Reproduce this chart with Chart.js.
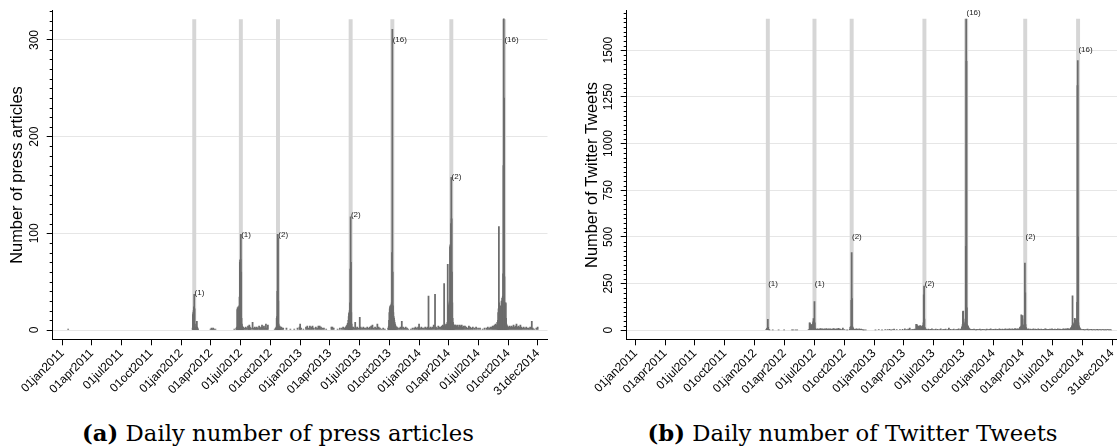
<!DOCTYPE html>
<html><head><meta charset="utf-8">
<script src="https://cdn.jsdelivr.net/npm/chart.js@4.4.1/dist/chart.umd.min.js"></script>
<style>
html,body{margin:0;padding:0;background:#fff;width:1117px;height:448px;overflow:hidden;position:relative}
canvas{position:absolute;top:0}
#c1{left:0}
#c2{left:557px}
.cap{position:absolute;white-space:nowrap;font-family:"DejaVu Serif",serif;color:#000;line-height:1}
</style></head><body>
<canvas id="c1" width="557" height="415"></canvas>
<canvas id="c2" width="574" height="415"></canvas>
<div class="cap" id="capA"><b>(a)</b> Daily number of press articles</div>
<div class="cap" id="capB"><b>(b)</b> Daily number of Twitter Tweets</div>
<script>
// ---------- DATA (x = days since 01jan2011) ----------
const xTickDays   = [0, 90, 181, 273, 365, 456, 547, 639, 731, 821, 912, 1004, 1096, 1186, 1277, 1369, 1460];
const xTickLabels = ["01jan2011","01apr2011","01jul2011","01oct2011","01jan2012","01apr2012","01jul2012","01oct2012",
                     "01jan2013","01apr2013","01jul2013","01oct2013","01jan2014","01apr2014","01jul2014","01oct2014","31dec2014"];

const eventDays   = [405, 548, 662, 885, 1013, 1194, 1356];
const eventLabels = ["(1)", "(1)", "(2)", "(2)", "(16)", "(2)", "(16)"];

const pressYTicks  = [0, 100, 200, 300];
const tweetYTicks  = [0, 250, 500, 750, 1000, 1250, 1500];
const pressBandTop = 321;
const tweetBandTop = 1667;
const pressLabelY  = [39, 99, 99, 119, 300, 158, 300];
const tweetLabelY  = [250, 250, 500, 250, 1700, 500, 1500];

const pressDays = [18,
  400,401,402,403,404,405,406,407,408,409,410,412,413,414,415,417,
  455,458,460,463,466,470,528,
  534,536,537,538,539,540,541,542,543,544,545,546,547,548,549,550,551,552,553,554,555,556,
  560,563,566,570,572,574,576,579,584,588,591,594,597,600,604,607,610,613,616,619,622,625,628,631,
  652,655,657,658,659,660,661,662,663,664,665,666,667,668,670,672,675,678,
  688,700,712,722,728,730,733,740,748,752,756,760,764,768,772,778,782,786,790,794,798,803,810,826,829,833,845,852,858,862,866,
  868,870,872,874,876,878,879,880,881,882,883,884,885,886,887,888,889,890,
  893,896,899,902,905,909,913,916,920,924,928,932,936,940,944,948,952,956,960,964,967,971,975,980,985,990,
  1000,1002,1003,1004,1005,1006,1007,1008,1009,1010,1011,1012,1013,1014,1015,1016,1017,1018,1019,1020,1021,1022,1023,1025,1027,1030,
  1034,1038,1042,1046,1050,1054,1058,1062,1070,1075,1080,1084,1088,1092,1095,1098,1102,1106,1110,1114,1118,1121,1124,1127,1130,1133,1136,1140,1144,1147,1150,1154,1158,1162,1165,1168,1170,1172,1174,1176,1178,1180,
  1182,1183,1184,1185,1186,1187,1188,1189,1190,1191,1192,1193,1194,1195,1196,1197,1198,1199,1200,1201,1203,1205,
  1208,1211,1214,1217,1220,1223,1226,1229,1232,1236,1240,1244,1248,1252,1256,1260,1265,1270,1276,1282,1290,1296,1302,1306,1310,1314,1318,1321,1324,1327,1330,1333,1335,
  1337,1338,1339,1340,1341,1342,1343,1344,1345,1346,1347,1348,1349,1350,1351,1352,1353,1354,1355,1356,1357,1358,1359,1360,1361,1362,1363,1364,1366,1368,
  1370,1373,1376,1379,1382,1385,1388,1391,1394,1397,1400,1403,1406,1409,1412,1416,1420,1424,1428,1432,1436,1441,1444,1448,1455,1459];
const pressCounts = [1,
  2,16,18,20,24,37,22,6,3,2,1,2,9,3,2,1,
  1,2,1,2,1,1,1,
  2,3,21,23,22,24,22,20,25,34,70,72,73,99,60,12,6,4,3,2,3,2,
  2,3,2,4,3,5,3,2,8,2,3,2,3,2,4,2,3,5,3,4,2,6,2,5,
  1,2,3,12,14,40,99,95,30,6,4,3,4,3,2,3,2,2,
  2,1,1,2,3,6,2,1,3,4,2,4,3,4,2,3,2,4,4,3,2,2,1,3,3,2,1,2,2,3,2,
  2,3,4,5,7,10,14,17,18,20,28,63,117,70,18,6,3,2,
  3,2,8,2,3,2,13,3,2,3,2,2,3,2,3,4,5,2,3,2,6,3,2,1,2,1,
  2,4,10,18,22,24,25,22,26,24,28,80,311,60,25,18,14,12,10,8,6,5,4,3,3,2,
  2,3,9,3,2,3,2,1,1,2,2,3,2,3,6,2,3,2,2,3,2,3,35,2,3,2,3,5,37,3,2,4,3,3,4,5,4,48,5,4,6,5,
  8,68,22,25,24,26,28,30,86,88,80,110,158,115,60,28,12,8,6,5,4,5,
  5,4,5,3,5,4,5,3,4,4,3,2,4,3,2,3,2,3,2,2,1,2,2,3,2,3,3,4,4,5,6,5,8,
  10,18,22,107,28,20,18,22,25,20,22,30,24,33,28,35,58,170,322,240,55,28,20,27,28,12,6,5,4,3,
  3,4,3,4,3,5,3,4,6,3,4,3,5,3,2,3,2,3,2,2,3,9,2,1,2,3];

const tweetDays = [
  400,402,403,404,405,406,407,408,410,
  420,438,455,479,483,490,495,
  530,533,534,535,536,537,538,539,540,541,542,543,544,545,546,547,548,549,550,551,552,
  555,558,561,564,567,570,573,576,579,582,585,588,591,594,597,600,603,606,609,612,615,618,621,624,627,632,635,640,648,
  656,658,659,660,661,662,663,664,665,666,667,668,670,
  673,676,679,682,685,688,691,694,697,700,705,735,745,755,765,772,778,783,788,792,800,810,818,825,830,835,840,845,850,855,
  858,860,861,862,863,864,865,866,867,868,869,870,872,874,876,878,880,882,883,884,885,886,887,888,890,
  893,897,900,904,908,912,916,920,925,930,935,940,945,950,955,960,965,970,975,980,985,990,995,
  998,1000,1001,1002,1003,1004,1005,1006,1007,1008,1009,1010,1011,1012,1013,1014,1015,1016,1017,1018,1019,1020,1021,1022,
  1025,1028,1031,1034,1037,1040,1043,1046,1049,1052,1055,1058,1061,1064,1067,1070,1073,1076,1079,1082,1085,1088,1091,1094,1097,1100,1103,1106,1109,1112,1115,1118,1121,1124,1127,1130,1133,1136,1139,1142,1145,1148,1151,1154,1157,1160,1163,1166,1169,1172,
  1175,1178,1180,1182,1183,1184,1185,1186,1187,1188,1189,1190,1191,1192,1193,1194,1195,1196,1197,1198,
  1201,1204,1207,1210,1213,1216,1219,1222,1225,1228,1231,1234,1237,1240,1243,1246,1249,1252,1255,1258,1261,1264,1267,1270,1273,1276,1279,1282,1285,1288,1291,1294,1297,1300,1303,1306,1309,1312,1315,1318,1321,1324,1327,
  1330,1333,1335,1337,1338,1339,1340,1341,1342,1343,1344,1345,1346,1347,1348,1349,1350,1351,1352,1353,1354,1355,1356,1357,1358,1359,1360,1361,1362,1364,
  1367,1370,1373,1376,1379,1382,1385,1388,1391,1394,1397,1400,1403,1406,1409,1412,1415,1418,1421,1424,1427,1430,1433,1436,1439,1442,1445,1448,1451,1454,1457];
const tweetCounts = [
  3,8,10,12,58,15,5,3,2,
  1,2,1,1,2,1,2,
  3,40,38,30,25,20,22,28,30,25,30,35,45,62,55,60,153,40,10,6,5,
  6,8,5,7,9,6,8,5,7,6,9,5,7,6,8,5,6,9,7,5,8,6,10,7,6,4,12,3,2,
  5,15,18,20,160,416,170,20,15,10,8,6,5,
  5,8,6,4,7,5,6,3,2,2,1,2,3,2,4,3,5,2,4,6,3,4,5,8,3,6,12,4,5,6,
  5,32,30,28,20,18,20,22,18,15,20,22,25,20,18,22,25,40,190,236,60,15,8,5,6,
  4,6,3,5,7,4,3,6,5,4,8,3,5,6,4,12,5,3,6,4,5,7,5,
  8,15,20,30,100,102,60,40,30,25,28,30,45,450,1667,1440,120,30,25,22,20,15,10,8,
  6,4,5,3,6,4,2,5,3,4,6,2,3,5,4,3,2,6,4,3,5,7,4,3,5,4,6,3,5,4,8,5,3,6,4,5,7,4,6,5,8,6,4,7,5,6,9,5,7,6,
  8,15,20,82,25,18,20,78,22,25,20,25,30,60,360,200,30,15,10,8,
  5,7,4,6,3,5,8,4,6,5,3,7,5,4,6,3,5,4,7,6,4,5,3,6,4,8,5,3,6,4,5,7,4,6,5,3,6,8,5,7,6,9,8,
  5,10,15,20,25,184,30,28,25,30,40,35,64,30,55,35,40,45,60,150,1310,1445,500,40,25,20,15,12,8,6,
  4,3,5,2,4,3,6,2,3,4,5,2,3,4,2,3,5,2,4,3,2,3,4,2,3,2,4,3,2,3,2];

// ---------- CHART ----------
const FONT = "'Liberation Sans', Arial, Helvetica, sans-serif";
Chart.defaults.font.family = FONT;
Chart.defaults.color = '#000';

function build(id, o) {
  const H = 415;
  const decor = {
    id: 'decor_' + id,
    afterDraw(chart) {
      const ctx = chart.ctx, xs = chart.scales.x, ys = chart.scales.y, ca = chart.chartArea;
      ctx.save();
      // minor y ticks
      ctx.strokeStyle = '#000'; ctx.lineWidth = 1;
      ctx.beginPath();
      for (let v = o.minorStep; v <= o.yMax; v += o.minorStep) {
        if (o.yTicks.includes(v)) continue;
        const y = Math.round(ys.getPixelForValue(v)) + 0.5;
        ctx.moveTo(ca.left - 3, y); ctx.lineTo(ca.left, y);
      }
      ctx.stroke();
      // rotated y tick labels (Stata style, reading bottom-to-top)
      ctx.fillStyle = '#000';
      ctx.font = '12px ' + FONT;
      ctx.textAlign = 'center'; ctx.textBaseline = 'middle';
      ys.ticks.forEach(t => {
        ctx.save();
        ctx.translate(ca.left - 17.6, ys.getPixelForValue(t.value));
        ctx.rotate(-Math.PI / 2);
        ctx.fillText(String(t.value), 0, 0);
        ctx.restore();
      });
      // event marker labels
      ctx.fillStyle = '#222';
      ctx.font = '8px ' + FONT;
      ctx.textAlign = 'left'; ctx.textBaseline = 'middle';
      eventDays.forEach((d, i) => {
        ctx.fillText(eventLabels[i], xs.getPixelForValue(d) + 0.3, ys.getPixelForValue(o.labelY[i]));
      });
      ctx.restore();
    }
  };
  return new Chart(document.getElementById(id), {
    type: 'bar',
    data: {
      datasets: [
        { data: o.days.map((d, i) => ({x: d, y: o.counts[i]})), backgroundColor: '#6c6c6c',
          barThickness: 1.1, grouped: false, order: 1 },
        { data: eventDays.map(d => ({x: d, y: o.bandTop})), backgroundColor: '#d6d6d6',
          barThickness: 3.3, grouped: false, order: 2 }
      ]
    },
    options: {
      responsive: false, animation: false, events: [],
      layout: { padding: { top: 10.7, right: o.padRight, left: 0, bottom: 0 } },
      plugins: { legend: { display: false }, tooltip: { enabled: false } },
      scales: {
        x: {
          type: 'linear', min: o.xMin, max: o.xMax, offset: false,
          afterBuildTicks: s => { s.ticks = xTickDays.map(v => ({value: v})); },
          ticks: { autoSkip: false, minRotation: 45, maxRotation: 45, padding: 1, color: '#000',
                   font: { size: 12 }, callback: (v, i) => xTickLabels[i] },
          grid: { offset: false, drawOnChartArea: false, drawTicks: true, tickLength: 6, tickColor: '#000' },
          border: { display: true, color: '#000', width: 1 },
          afterFit: s => { s.height = H - 339.3; }
        },
        y: {
          type: 'linear', min: o.yMin, max: o.yMax,
          afterBuildTicks: s => { s.ticks = o.yTicks.map(v => ({value: v})); },
          ticks: { display: false },
          grid: { color: '#e6e6e6', lineWidth: 1, drawTicks: true, tickLength: 6, tickColor: '#000' },
          border: { display: true, color: '#000', width: 1 },
          title: { display: true, text: o.title, color: '#000', font: { size: 16.4 },
                   padding: { top: o.titlePad, bottom: 0 } },
          afterFit: s => { s.width = o.axisW; }
        }
      }
    },
    plugins: [decor]
  });
}

build('c1', { days: pressDays, counts: pressCounts, bandTop: pressBandTop, labelY: pressLabelY,
  yTicks: pressYTicks, minorStep: 10, yMin: -9.62, yMax: 330.3, xMin: -29.46, xMax: 1489.2,
  axisW: 52.7, padRight: 9.5, titlePad: 7.7, title: 'Number of press articles' });

build('c2', { days: tweetDays, counts: tweetCounts, bandTop: tweetBandTop, labelY: tweetLabelY,
  yTicks: tweetYTicks, minorStep: 25, yMin: -48.7, yMax: 1711.6, xMin: -27.6, xMax: 1489.1,
  axisW: 69.7, padRight: 9.5, titlePad: 25.2, title: 'Number of Twitter Tweets' });

// ---------- CAPTIONS ----------
(function () {
  const a = document.getElementById('capA'), b = document.getElementById('capB');
  a.style.fontSize = '20px';
  const w = a.getBoundingClientRect().width;
  const fs = 20 * 392 / w;
  [[a, 278], [b, 852.5]].forEach(([el, c]) => {
    el.style.fontSize = fs + 'px';
    const ww = el.getBoundingClientRect().width;
    el.style.left = (c - ww / 2) + 'px';
    el.style.top = (441.5 - 0.846 * fs) + 'px';
  });
})();
</script>
</body></html>
